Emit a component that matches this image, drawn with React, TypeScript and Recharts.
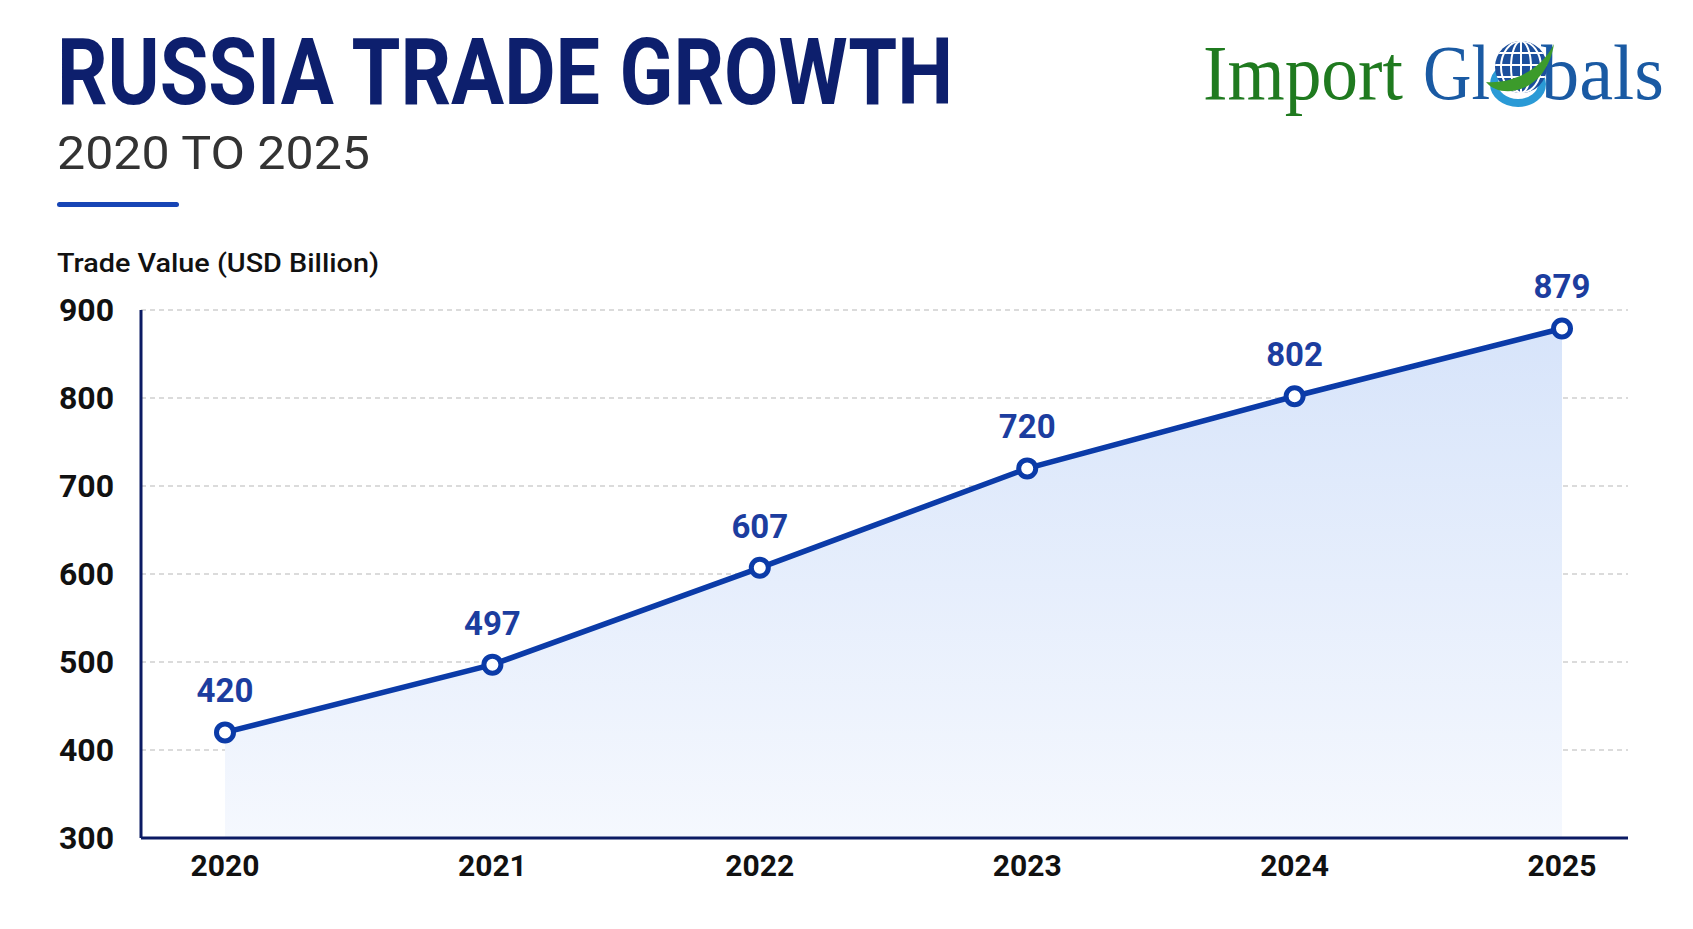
import { AreaChart, Area, XAxis, YAxis, CartesianGrid, LabelList } from 'recharts';

const years = ['2020', '2021', '2022', '2023', '2024', '2025'];
const tradeValues = [420, 497, 607, 720, 802, 879];
const yTicks = [300, 400, 500, 600, 700, 800, 900];

const data = years.map((year, i) => ({ year, value: tradeValues[i] }));

const NAVY = '#0b1a63';
const LINE_BLUE = '#0b3ba8';
const LABEL_BLUE = '#1c3d9f';

function Header() {
  return (
    <svg
      width={1693}
      height={300}
      style={{ position: 'absolute', left: 0, top: 0, pointerEvents: 'none' }}
    >
      <text
        x={57}
        y={104}
        fontFamily="Roboto, sans-serif"
        fontWeight={700}
        fontSize={92}
        fill="#0d1f6d"
        textLength={896}
        lengthAdjust="spacingAndGlyphs"
      >
        RUSSIA TRADE GROWTH
      </text>
      <text
        x={57}
        y={169}
        fontFamily="Roboto, sans-serif"
        fontSize={47}
        fill="#333333"
        textLength={313}
        lengthAdjust="spacingAndGlyphs"
      >
        2020 TO 2025
      </text>
      <rect x={57} y={202} width={122} height={5} rx={2.5} fill="#1745b5" />
      <text
        x={57}
        y={272}
        fontFamily="Roboto, sans-serif"
        fontWeight={500}
        fontSize={26}
        fill="#111111"
        textLength={322}
        lengthAdjust="spacingAndGlyphs"
      >
        Trade Value (USD Billion)
      </text>

      {/* logo */}
      <text
        x={1203}
        y={99}
        fontFamily="'Liberation Serif', serif"
        fontSize={78}
        fill="#1f7a1f"
        textLength={200}
        lengthAdjust="spacingAndGlyphs"
      >
        Import
      </text>
      <text
        x={1423}
        y={99}
        fontFamily="'Liberation Serif', serif"
        fontSize={78}
        fill="#1a5aa3"
        textLength={67}
        lengthAdjust="spacingAndGlyphs"
      >
        Gl
      </text>
      <text
        x={1541}
        y={99}
        fontFamily="'Liberation Serif', serif"
        fontSize={78}
        fill="#1a5aa3"
        textLength={123}
        lengthAdjust="spacingAndGlyphs"
      >
        bals
      </text>
      <defs>
        <clipPath id="globeClip">
          <circle cx={1521} cy={67} r={26} />
        </clipPath>
      </defs>
      <ellipse cx={1518} cy={84} rx={24} ry={19} fill="none" stroke="#2a9ad6" strokeWidth={8} />
      <circle cx={1521} cy={67} r={26} fill="#1c4f9c" />
      <g clipPath="url(#globeClip)" stroke="#ffffff" strokeWidth={2} fill="none">
        <line x1={1494} y1={53} x2={1548} y2={53} />
        <line x1={1494} y1={65} x2={1548} y2={65} />
        <line x1={1494} y1={77} x2={1548} y2={77} />
        <ellipse cx={1521} cy={67} rx={10} ry={26} />
        <ellipse cx={1521} cy={67} rx={20} ry={26} />
        <line x1={1521} y1={40} x2={1521} y2={94} />
      </g>
      <path
        d="M1486 82 C1500 100, 1546 94, 1554 44 C1540 72, 1510 84, 1486 82 Z"
        fill="#3c9b2b"
      />
    </svg>
  );
}

export default function App() {
  return (
    <div
      style={{
        position: 'relative',
        width: 1693,
        height: 929,
        background: '#ffffff',
        overflow: 'hidden',
        fontFamily: 'Roboto, sans-serif',
      }}
    >
      <style>{'body{margin:0}'}</style>
      <div style={{ position: 'absolute', left: 0, top: 0 }}>
        <AreaChart
          width={1693}
          height={929}
          data={data}
          margin={{ top: 310, right: 65, bottom: 31, left: 0 }}
        >
          <defs>
            <linearGradient id="areaFill" x1="0" y1="0" x2="0" y2="1">
              <stop offset="0%" stopColor="#d7e4fa" />
              <stop offset="100%" stopColor="#f5f8fe" />
            </linearGradient>
          </defs>
          <CartesianGrid vertical={false} stroke="#cfcfcf" strokeDasharray="5 4" strokeWidth={1.5} />
          <XAxis
            dataKey="year"
            height={60}
            padding={{ left: 84, right: 66 }}
            axisLine={{ stroke: NAVY, strokeWidth: 3 }}
            tickLine={false}
            tickSize={0}
            tickMargin={17}
            tick={{ fontSize: 30, fontWeight: 700, fill: '#111111' }}
          />
          <YAxis
            width={141}
            domain={[300, 900]}
            ticks={yTicks}
            allowDataOverflow
            axisLine={{ stroke: NAVY, strokeWidth: 3 }}
            tickLine={false}
            tickSize={0}
            tickMargin={27}
            tick={{ fontSize: 32, fontWeight: 700, fill: '#111111' }}
          />
          <Area
            type="linear"
            dataKey="value"
            stroke={LINE_BLUE}
            strokeWidth={5.5}
            fill="url(#areaFill)"
            fillOpacity={1}
            dot={{ r: 8.5, fill: '#ffffff', stroke: LINE_BLUE, strokeWidth: 5 }}
            activeDot={false}
            isAnimationActive={false}
          >
            <LabelList
              dataKey="value"
              position="top"
              offset={30}
              style={{ fontSize: 33, fontWeight: 700, fill: LABEL_BLUE }}
            />
          </Area>
        </AreaChart>
      </div>
      <Header />
    </div>
  );
}
